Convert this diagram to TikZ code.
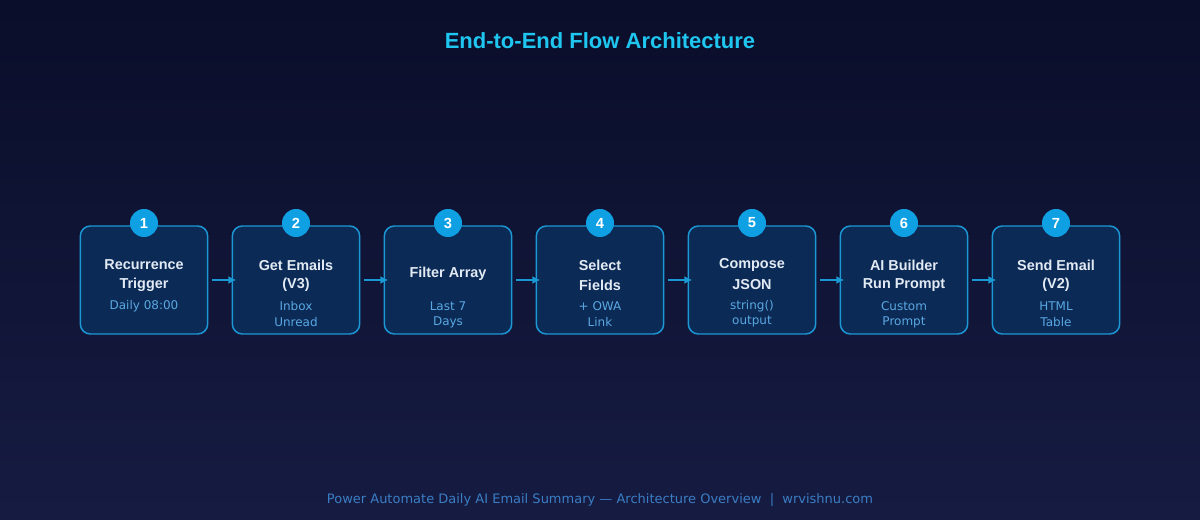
\documentclass[tikz,border=0pt]{standalone}
\usepackage{fontspec}
\setmainfont{DejaVu Sans}
\newfontfamily\ttl{Liberation Sans}
\usetikzlibrary{arrows.meta}
\def\myempty{}
\begin{document}
\begin{tikzpicture}[x=0.75pt,y=-0.75pt,
  box/.style={draw=boxline,fill=boxfill,rounded corners=7.5pt,line width=1.1pt},
  num/.style={circle,fill=numfill,minimum size=21pt,inner sep=0pt,text=white,font=\ttl\bfseries\fontsize{11}{11}\selectfont},
  hd/.style={text=hdtext,font=\ttl\bfseries\fontsize{10.8}{11}\selectfont,inner sep=0pt},
  sb/.style={text=sbtext,font=\fontsize{9}{9}\selectfont,inner sep=0pt},
  conn/.style={draw=boxline,line width=1.1pt,-{Latex[length=6pt,width=6pt]}}]
\definecolor{bgtop}{HTML}{0A0E2A}
\definecolor{bgbot}{HTML}{161B42}
\definecolor{boxfill}{HTML}{0C2A56}
\definecolor{boxline}{HTML}{1A98D4}
\definecolor{numfill}{HTML}{0EA0E2}
\definecolor{hdtext}{HTML}{E2EAF4}
\definecolor{sbtext}{HTML}{5AA8E2}
\definecolor{titlec}{HTML}{1EC6F0}
\definecolor{footc}{HTML}{3A7EC4}
\shade[top color=bgtop,bottom color=bgbot] (0,0) rectangle (1200,520);
\useasboundingbox (0,0) rectangle (1200,520);
\node[text=titlec,font=\ttl\bfseries\fontsize{16.5}{17}\selectfont] (title) at (600,41) {End-to-End Flow Architecture};
\node[text=footc,font=\fontsize{9.75}{10}\selectfont] (foot) at (600,500) {Power Automate Daily AI Email Summary — Architecture Overview \ {|} \ wrvishnu.com};
\foreach \i/\a/\b/\c/\d in {
 1/Recurrence/Trigger/Daily 08:00/,
 2/Get Emails/(V3)/Inbox/Unread,
 3/Filter Array//Last 7/Days,
 4/Select/Fields/+ OWA/Link,
 5/Compose/JSON/string()/output,
 6/AI Builder/Run Prompt/Custom/Prompt,
 7/Send Email/(V2)/HTML/Table}{
  \pgfmathsetmacro\cx{144+152*(\i-1)}
  \node[box,minimum width=95.5pt,minimum height=81pt] (b\i) at (\cx,280) {};
  \node[num] (n\i) at (\cx,223) {\i};
  \ifx\b\myempty
    \node[hd] (h\i) at (\cx,274) {\a};
  \else
    \node[hd] (h\i) at (\cx,265) {\a};
    \node[hd] (g\i) at (\cx,285) {\b};
  \fi
  \node[sb] (s\i) at (\cx,306) {\c};
  \ifx\d\myempty\else
    \node[sb] (t\i) at (\cx,322) {\d};
  \fi
}
\foreach \i [evaluate=\i as \j using int(\i+1)] in {1,...,6}{
  \draw[conn] ([xshift=3pt]b\i.east) -- ([xshift=3.5pt]b\j.west);
}
\end{tikzpicture}
\end{document}
